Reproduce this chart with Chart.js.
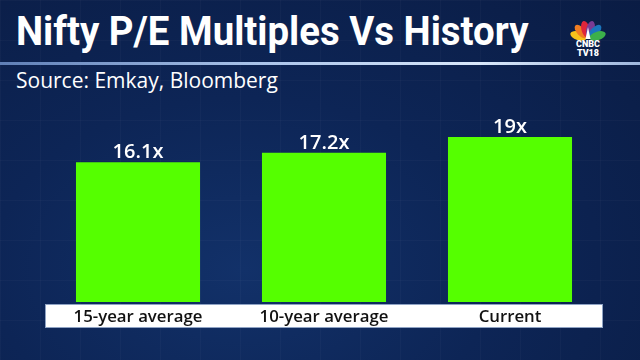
<!DOCTYPE html>
<html>
<head>
<meta charset="utf-8">
<script src="https://cdn.jsdelivr.net/npm/chart.js@4"></script>
<style>
  html, body { margin: 0; padding: 0; }
  body {
    width: 640px; height: 360px; overflow: hidden; position: relative;
    background:
      linear-gradient(rgba(255,255,255,0.025) 1px, transparent 1px) 0 0 / 40px 40px,
      linear-gradient(90deg, rgba(255,255,255,0.025) 1px, transparent 1px) 0 0 / 40px 40px,
      radial-gradient(ellipse at 38% 75%, #123169 0%, #0d2556 45%, #0a1c44 100%);
  }
  #title {
    position: absolute; left: 16px; top: 8px;
    font-family: Roboto, sans-serif; font-weight: 700; font-size: 40px;
    color: #fff; white-space: nowrap;
    transform-origin: 0 0; transform: scaleX(0.96);
  }
  #rule {
    position: absolute; left: 0; top: 62px; width: 640px; height: 3px;
    background: linear-gradient(90deg, #5f7fb6 0%, #a9c3ea 40%, #d9e8fb 75%, #9fb7dd 100%);
  }
  #source {
    position: absolute; left: 16px; top: 66px;
    font-family: 'Open Sans', sans-serif; font-size: 21px; color: #fff; white-space: nowrap;
  }
  #logo { position: absolute; left: 563px; top: 10px; }
  #chart { position: absolute; left: 0; top: 0; }
</style>
</head>
<body>
<div id="title">Nifty P/E Multiples Vs History</div>
<div id="rule"></div>
<div id="source">Source: Emkay, Bloomberg</div>
<svg id="logo" width="50" height="50" viewBox="0 0 50 50">
  <g transform="translate(25,29)">
    <ellipse cx="0" cy="-10" rx="4.2" ry="8.5" fill="#f6c21b" transform="rotate(-72)"/>
    <ellipse cx="0" cy="-10" rx="4.2" ry="8.5" fill="#ef7d22" transform="rotate(-43)"/>
    <ellipse cx="0" cy="-10" rx="4.2" ry="8.5" fill="#e0263a" transform="rotate(-14)"/>
    <ellipse cx="0" cy="-10" rx="4.2" ry="8.5" fill="#7a3b93" transform="rotate(14)"/>
    <ellipse cx="0" cy="-10" rx="4.2" ry="8.5" fill="#1b75bc" transform="rotate(43)"/>
    <ellipse cx="0" cy="-10" rx="4.2" ry="8.5" fill="#3cb04a" transform="rotate(72)"/>
    <path d="M-2.5,0 L0,-12 L2.5,0 Z" fill="#fff"/>
  </g>
  <text x="25" y="37" text-anchor="middle" font-family="Roboto, sans-serif" font-weight="900" font-size="9" fill="#fff">CNBC</text>
  <text x="25" y="46" text-anchor="middle" font-family="Roboto, sans-serif" font-weight="900" font-size="9" fill="#fff">TV18</text>
</svg>
<canvas id="chart" width="640" height="360"></canvas>
<script>
const categories = ["15-year average", "10-year average", "Current"];
const peValues = [16.1, 17.2, 19];
const valueLabels = ["16.1x", "17.2x", "19x"];

// white band with category names under the bars
const bandPlugin = {
  id: "band",
  afterDatasetsDraw(chart) {
    const ctx = chart.ctx;
    const x = chart.scales.x;
    const area = chart.chartArea;
    ctx.save();
    ctx.fillStyle = "#ffffff";
    ctx.fillRect(area.left, area.bottom + 2, area.right - area.left, 24);
    ctx.strokeStyle = "#8fa3c4";
    ctx.lineWidth = 1;
    ctx.strokeRect(area.left + 0.5, area.bottom + 2.5, area.right - area.left - 1, 23);
    ctx.fillStyle = "#111";
    ctx.font = "600 16.8px 'Open Sans', sans-serif";
    ctx.textAlign = "center";
    ctx.textBaseline = "alphabetic";
    categories.forEach((c, i) => {
      ctx.fillText(c, x.getPixelForValue(i), area.bottom + 20);
    });
    ctx.restore();
  }
};

// value labels above each bar
const labelPlugin = {
  id: "valueLabels",
  afterDatasetsDraw(chart) {
    const ctx = chart.ctx;
    const meta = chart.getDatasetMeta(0);
    ctx.save();
    ctx.fillStyle = "#ffffff";
    ctx.font = "600 20px 'Open Sans', sans-serif";
    ctx.textAlign = "center";
    ctx.textBaseline = "alphabetic";
    meta.data.forEach((bar, i) => {
      ctx.fillText(valueLabels[i], bar.x, bar.y - 4);
    });
    ctx.restore();
  }
};

new Chart(document.getElementById("chart").getContext("2d"), {
  type: "bar",
  data: {
    labels: categories,
    datasets: [{
      data: peValues,
      backgroundColor: "#55ff00",
      borderWidth: 0,
      categoryPercentage: 0.667,
      barPercentage: 1
    }]
  },
  options: {
    responsive: false,
    animation: false,
    layout: { padding: { left: 45, right: 37, top: 111, bottom: 58 } },
    plugins: { legend: { display: false }, tooltip: { enabled: false } },
    scales: {
      x: { display: false },
      y: { display: false, min: 0, max: 22 }
    }
  },
  plugins: [bandPlugin, labelPlugin]
});
</script>
</body>
</html>
